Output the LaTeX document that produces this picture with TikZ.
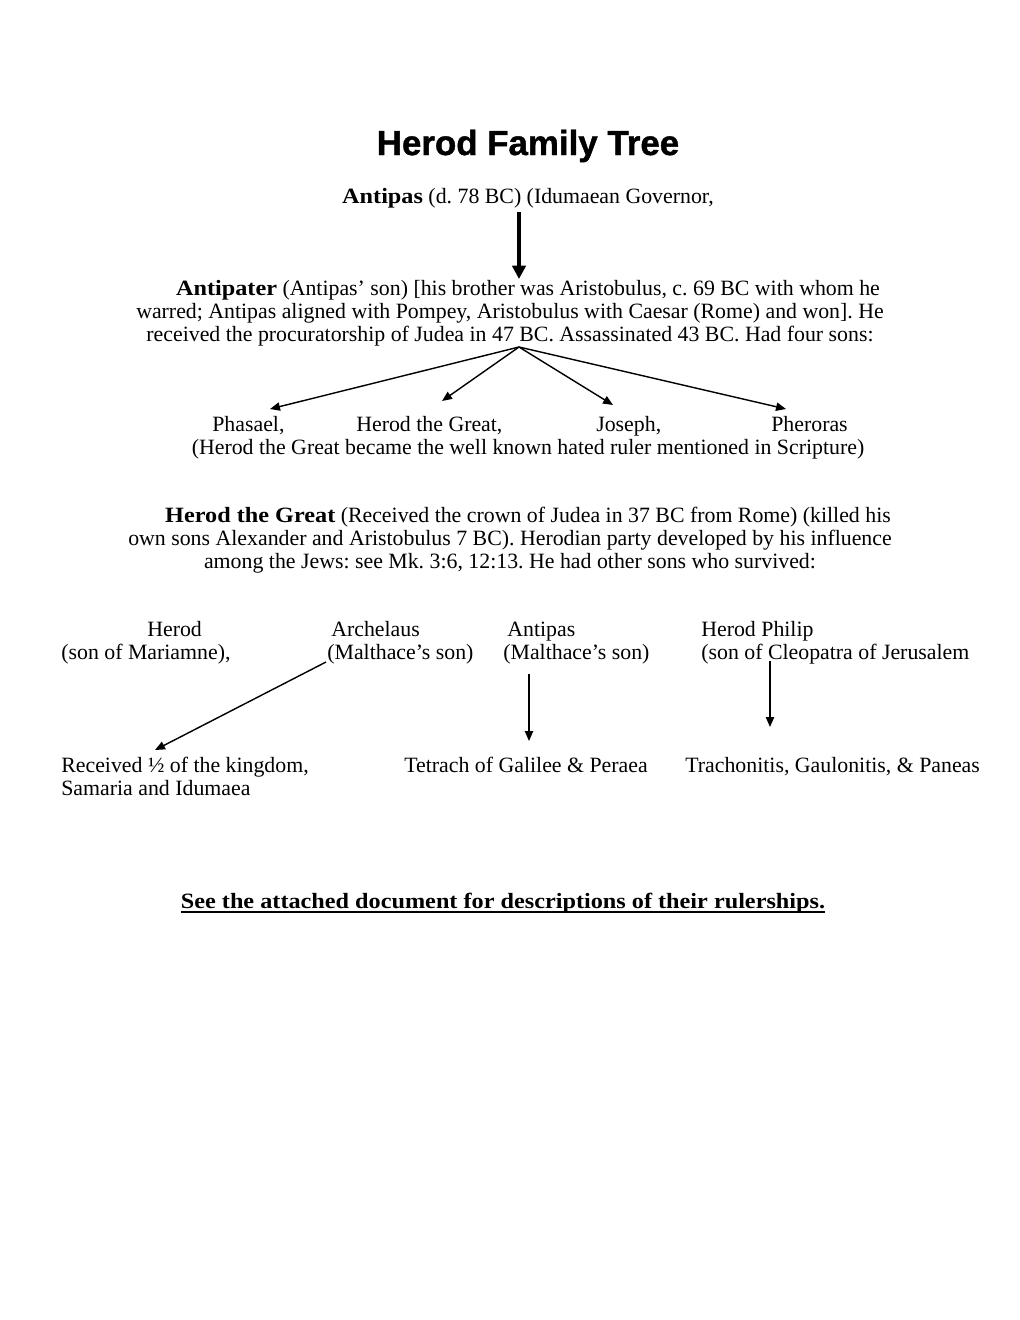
\documentclass[tikz,border=0pt]{standalone}
\usepackage{fontspec}
\setmainfont{Liberation Serif}
\newfontfamily\titlefont[FakeBold=1.2]{Liberation Sans Bold}
\newcommand\bfw[1]{{\bfseries\addfontfeature{FakeStretch=1.11}#1}}
\frenchspacing
\usetikzlibrary{arrows.meta}
\begin{document}
\begin{tikzpicture}[x=0.21167mm,y=-0.21167mm,
  txt/.style={inner sep=0pt,anchor=base west,font=\fontsize{13.15}{15}\selectfont\frenchspacing},
  ctxt/.style={inner sep=0pt,anchor=base,font=\fontsize{13.15}{15}\selectfont\frenchspacing},
  thinarrow/.style={line width=0.85pt,-{Triangle[length=6pt,width=5pt]}},
  thickarrow/.style={line width=2.4pt,-{Triangle[length=8pt,width=8pt]}}]
\useasboundingbox[fill=white] (0,0) rectangle (1020,1320);
% title
\node[inner sep=0pt,anchor=base,font=\titlefont\fontsize{21}{23}\selectfont] (title) at (528,155) {Herod Family Tree};
\node[ctxt] (antipas) at (528,203) {\bfw{Antipas} (d. 78 BC) (Idumaean Governor,};
\coordinate (a1) at (519,212);
\coordinate (a2) at (519,279);
\draw[thickarrow] (a1) -- (a2);
% Antipater
\node[ctxt] (ap1) at (528,295) {\bfw{Antipater} (Antipas’ son) [his brother was Aristobulus, c. 69 BC with whom he};
\node[ctxt] (ap2) at (510,318) {warred; Antipas aligned with Pompey, Aristobulus with Caesar (Rome) and won]. He};
\node[ctxt] (ap3) at (510,341) {received the procuratorship of Judea in 47 BC. Assassinated 43 BC. Had four sons:};
\coordinate (fork) at (519,347);
\coordinate (t1) at (270,409);
\coordinate (t2) at (442,401);
\coordinate (t3) at (613,405);
\coordinate (t4) at (786,409);
\draw[thinarrow] (fork) -- (t1);
\draw[thinarrow] (fork) -- (t2);
\draw[thinarrow] (fork) -- (t3);
\draw[thinarrow] (fork) -- (t4);
\node[txt] (phasael) at (212,431) {Phasael,};
\node[txt] (hg) at (356,431) {Herod the Great,};
\node[txt] (joseph) at (596,431) {Joseph,};
\node[txt] (pheroras) at (771,431) {Pheroras};
\node[ctxt] (hgnote) at (528,454) {(Herod the Great became the well known hated ruler mentioned in Scripture)};
% Herod the Great
\node[ctxt] (hg1) at (528,522) {\bfw{Herod the Great} (Received the crown of Judea in 37 BC from Rome) (killed his};
\node[ctxt] (hg2) at (510,545) {own sons Alexander and Aristobulus 7 BC). Herodian party developed by his influence};
\node[ctxt] (hg3) at (510,568) {among the Jews: see Mk. 3:6, 12:13. He had other sons who survived:};
% sons
\node[txt] (herod) at (147,636) {Herod};
\node[txt] (herodm) at (61,659) {(son of Mariamne),};
\node[txt] (arch) at (331,636) {Archelaus};
\node[txt] (archm) at (327,659) {(Malthace’s son)};
\node[txt] (antip) at (507,636) {Antipas};
\node[txt] (antipm) at (503,659) {(Malthace’s son)};
\node[txt] (philip) at (701,636) {Herod Philip};
\node[txt] (philipm) at (701,659) {(son of Cleopatra of Jerusalem};
\coordinate (b1) at (326,662);
\coordinate (b2) at (155,750);
\coordinate (c1) at (529,674);
\coordinate (c2) at (529,741);
\coordinate (d1) at (770,661);
\coordinate (d2) at (770,727);
\draw[thinarrow] (b1) -- (b2);
\draw[thinarrow] (c1) -- (c2);
\draw[thinarrow] (d1) -- (d2);
\node[txt] (rec) at (61,772) {Received ½ of the kingdom,};
\node[txt] (sam) at (61,795) {Samaria and Idumaea};
\node[txt] (tet) at (404,772) {Tetrach of Galilee \& Peraea};
\node[txt] (tra) at (685,772) {Trachonitis, Gaulonitis, \& Paneas};
\node[ctxt] (see) at (503,908) {\bfw{See the attached document for descriptions of their rulerships.}};
\draw[line width=0.9pt] ([yshift=-2.4pt]see.base west) -- ([yshift=-2.4pt]see.base east);
\end{tikzpicture}
\end{document}
